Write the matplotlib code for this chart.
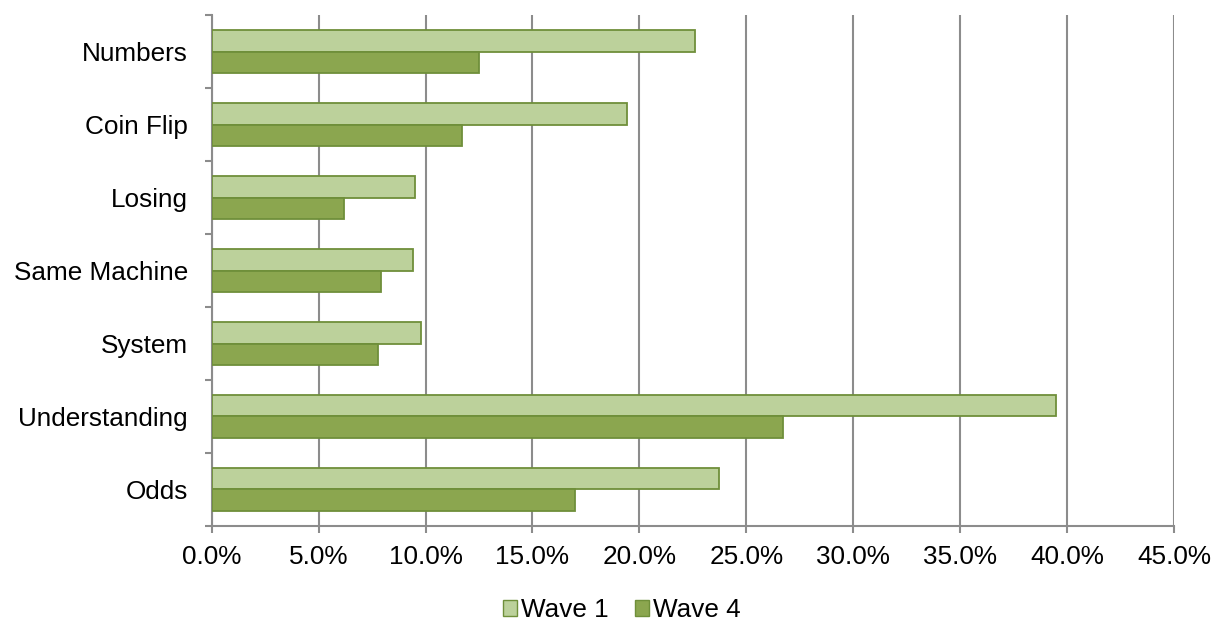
import matplotlib
matplotlib.use("Agg")
import matplotlib.pyplot as plt
import numpy as np
from matplotlib.ticker import FuncFormatter, MultipleLocator, FixedLocator
from matplotlib.patches import Patch

plt.rcParams['font.family'] = ['Liberation Sans', 'DejaVu Sans']

categories = ["Numbers", "Coin Flip", "Losing", "Same Machine", "System", "Understanding", "Odds"]
wave1 = [22.6, 19.4, 9.5, 9.4, 9.8, 39.5, 23.7]
wave4 = [12.5, 11.7, 6.2, 7.9, 7.8, 26.7, 17.0]
series_names = ["Wave 1", "Wave 4"]

light = "#BCD19B"
dark = "#8BA64F"
edge = "#6F8F3A"
grid_c = "#8C8C8C"
fs = 18.8

fig = plt.figure(figsize=(12.15, 6.21), dpi=100)
ax = fig.add_axes([0.1742, 0.153, 0.7921, 0.8228])

y = np.arange(len(categories))
h = 0.295
ax.barh(y - h / 2, wave1, height=h, color=light, edgecolor=edge, linewidth=1.3, zorder=3)
ax.barh(y + h / 2, wave4, height=h, color=dark, edgecolor=edge, linewidth=1.3, zorder=3)

ax.set_xlim(0, 45)
ax.set_ylim(len(categories) - 0.5, -0.5)
ax.xaxis.set_major_locator(MultipleLocator(5))
ax.xaxis.set_major_formatter(FuncFormatter(lambda v, p: f"{v:.1f}%"))
ax.grid(axis='x', color=grid_c, linewidth=1.5, zorder=0)

ax.set_yticks(y)
ax.set_yticklabels(categories)
ax.yaxis.set_minor_locator(FixedLocator(np.arange(-0.5, len(categories), 1.0)))
ax.tick_params(axis='y', which='major', length=0, pad=17, labelsize=fs)
ax.tick_params(axis='y', which='minor', length=5, width=1.5, color=grid_c, direction='out')
ax.tick_params(axis='x', which='major', length=5, width=1.5, color=grid_c, direction='out',
               pad=9, labelsize=fs)

for s in ['top', 'right']:
    ax.spines[s].set_visible(False)
for s in ['left', 'bottom']:
    ax.spines[s].set_color(grid_c)
    ax.spines[s].set_linewidth(1.5)

handles = [Patch(facecolor=light, edgecolor=edge, linewidth=1.0),
           Patch(facecolor=dark, edgecolor=edge, linewidth=1.0)]
fig.legend(handles, series_names, loc='center', bbox_to_anchor=(0.512, 0.017), ncol=2,
           frameon=False, fontsize=fs, handlelength=0.55, handleheight=0.55,
           handletextpad=0.15, columnspacing=1.0, borderpad=0.0)

fig.savefig("out.png", dpi=100)
